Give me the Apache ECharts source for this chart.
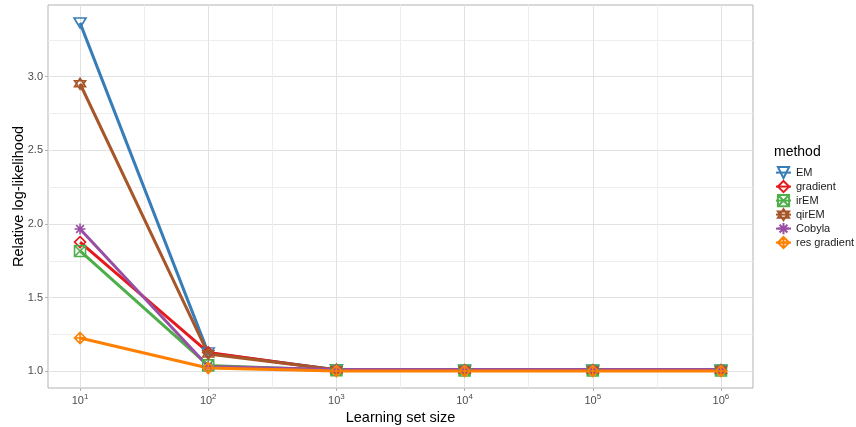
<!DOCTYPE html>
<html>
<head>
<meta charset="utf-8">
<script src="https://cdn.jsdelivr.net/npm/echarts@6/dist/echarts.min.js"></script>
<style>
  html, body { margin: 0; padding: 0; background: #ffffff; }
  #chart { width: 856px; height: 427px; }
</style>
</head>
<body>
<div id="chart"></div>
<script>
// Learning set sizes (x) and relative log-likelihood per method (y)
const sizes = [10, 100, 1000, 10000, 100000, 1000000];
const methods = ['EM', 'gradient', 'irEM', 'qirEM', 'Cobyla', 'res gradient'];
const emValues        = [3.365, 1.125, 1.010, 1.008, 1.008, 1.008];
const gradientValues  = [1.877, 1.128, 1.008, 1.006, 1.006, 1.006];
const irEmValues      = [1.817, 1.040, 1.007, 1.005, 1.005, 1.005];
const qirEmValues     = [2.952, 1.118, 1.010, 1.008, 1.008, 1.008];
const cobylaValues    = [1.966, 1.032, 1.012, 1.012, 1.012, 1.012];
const resGradValues   = [1.226, 1.022, 1.002, 1.002, 1.002, 1.002];

// Axis ticks (x in decades) and grid lines (major + minor, alternating)
const xTickExponents = [1, 2, 3, 4, 5, 6];
const xGridValues = [1, 1.5, 2, 2.5, 3, 3.5, 4, 4.5, 5, 5.5, 6];
const yTickValues = [1.0, 1.5, 2.0, 2.5, 3.0];
const yGridValues = [1.0, 1.25, 1.5, 1.75, 2.0, 2.25, 2.5, 2.75, 3.0, 3.25];

const valuesByMethod = [emValues, gradientValues, irEmValues, qirEmValues, cobylaValues, resGradValues];

const colors = ['#377EB8', '#E41A1C', '#4DAF4A', '#A65628', '#984EA3', '#FF7F00'];
const symbols = [
  'path://M1,2 L19,2 L10,18 Z',
  'path://M10,0 L20,10 L10,20 L0,10 Z',
  'path://M2,2 L18,2 L18,18 L2,18 Z M2,2 L18,18 M18,2 L2,18',
  'path://M10,0 L19,15.5 L1,15.5 Z M10,20 L1,4.5 L19,4.5 Z',
  'path://M10,0 L10,20 M0,10 L20,10 M3,3 L17,17 M3,17 L17,3',
  'path://M10,0 L20,10 L10,20 L0,10 Z M10,0 L10,20 M0,10 L20,10'
];

const X_MIN = 0.75, X_MAX = 6.25;
const Y_MIN = 0.8866, Y_MAX = 3.4866;

const MAJOR = '#e2e2e2';
const MINOR = '#eeeeee';
const TICK = '#b3b3b3';
const FONT = 'Liberation Sans';

const series = methods.map((name, k) => ({
  name: name,
  type: 'line',
  xAxisIndex: 0,
  yAxisIndex: 0,
  data: sizes.map((s, i) => [Math.log10(s), valuesByMethod[k][i]]),
  symbol: symbols[k],
  symbolSize: k === 0 ? [12, 10] : 11,
  showAllSymbol: true,
  lineStyle: { color: colors[k], width: 3 },
  itemStyle: { color: 'rgba(0,0,0,0)', borderColor: colors[k], borderWidth: 1.6 },
  emphasis: { disabled: true },
  animation: false
}));

// Helper axis that only draws the panel grid lines
function gridAxis(min, max, values) {
  return {
    type: 'value',
    min: min,
    max: max,
    axisLine: { show: false },
    axisLabel: { show: false },
    axisTick: { show: false, customValues: values },
    splitLine: { show: true, lineStyle: { color: [MAJOR, MINOR], width: 1 } }
  };
}

const chart = echarts.init(document.getElementById('chart'), null, { renderer: 'canvas' });
chart.setOption({
  backgroundColor: '#ffffff',
  animation: false,
  title: {
    text: 'method',
    left: 774,
    top: 145,
    textStyle: { fontFamily: FONT, fontSize: 14, fontWeight: 'normal', color: '#000000' },
    padding: 0
  },
  legend: {
    orient: 'vertical',
    left: 775,
    top: 166,
    itemWidth: 15,
    itemHeight: 14,
    itemGap: 0.8,
    padding: 0,
    selectedMode: false,
    textStyle: { fontFamily: FONT, fontSize: 11, color: '#1a1a1a' },
    data: methods
  },
  grid: {
    left: 48, top: 5, right: 103, bottom: 39,
    outerBoundsMode: 'none',
    containLabel: false,
    show: true,
    borderColor: TICK,
    borderWidth: 1,
    backgroundColor: 'rgba(0,0,0,0)'
  },
  xAxis: [
    {
      type: 'value',
      min: X_MIN,
      max: X_MAX,
      position: 'bottom',
      name: 'Learning set size',
      nameLocation: 'middle',
      nameMoveOverlap: false,
      nameGap: 22,
      nameTextStyle: { fontFamily: FONT, fontSize: 14.5, color: '#000000' },
      axisLine: { show: false },
      axisTick: { show: true, customValues: xTickExponents, length: 3, lineStyle: { color: TICK, width: 1 } },
      axisLabel: {
        customValues: xTickExponents,
        margin: 5,
        formatter: v => '{b|10}{s|' + Math.round(v) + '}',
        rich: {
          b: { fontFamily: FONT, fontSize: 11, color: '#4d4d4d' },
          s: { fontFamily: FONT, fontSize: 8, color: '#4d4d4d', padding: [0, 0, 7, 0] }
        }
      },
      splitLine: { show: false }
    },
    gridAxis(X_MIN, X_MAX, xGridValues)
  ],
  yAxis: [
    {
      type: 'value',
      min: Y_MIN,
      max: Y_MAX,
      position: 'left',
      name: 'Relative log-likelihood',
      nameLocation: 'middle',
      nameMoveOverlap: false,
      nameGap: 22,
      nameTextStyle: { fontFamily: FONT, fontSize: 14.5, color: '#000000' },
      axisLine: { show: false },
      axisTick: { show: true, customValues: yTickValues, length: 3, lineStyle: { color: TICK, width: 1 } },
      axisLabel: {
        customValues: yTickValues,
        margin: 5,
        fontFamily: FONT,
        fontSize: 11,
        color: '#4d4d4d',
        formatter: v => v.toFixed(1)
      },
      splitLine: { show: false }
    },
    gridAxis(Y_MIN, Y_MAX, yGridValues)
  ],
  series: series
});
</script>
</body>
</html>
